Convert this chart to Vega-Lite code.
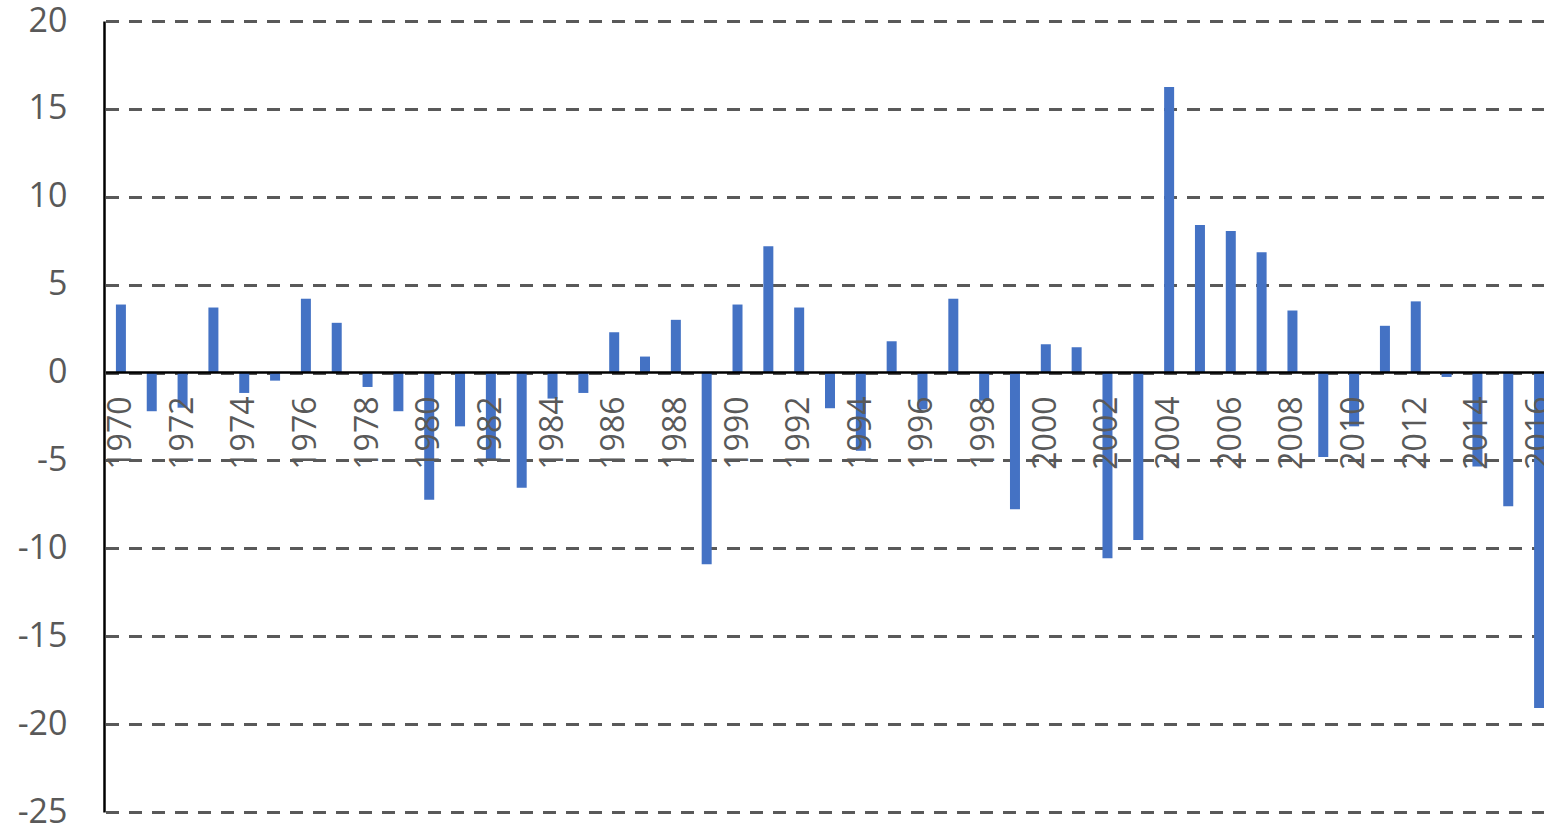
{
  "$schema": "https://vega.github.io/schema/vega-lite/v6.json",
  "width": 1440,
  "height": 791,
  "autosize": "none",
  "padding": {"left": 104, "top": 21, "right": 0, "bottom": 14},
  "background": "white",
  "config": {"view": {"stroke": null}},
  "data": {
    "values": [
      {"year": "1970", "value": 3.87},
      {"year": "1971", "value": -2.2},
      {"year": "1972", "value": -2.0},
      {"year": "1973", "value": 3.7},
      {"year": "1974", "value": -1.16},
      {"year": "1975", "value": -0.46},
      {"year": "1976", "value": 4.2},
      {"year": "1977", "value": 2.83},
      {"year": "1978", "value": -0.82},
      {"year": "1979", "value": -2.2},
      {"year": "1980", "value": -7.24},
      {"year": "1981", "value": -3.06},
      {"year": "1982", "value": -5.0},
      {"year": "1983", "value": -6.55},
      {"year": "1984", "value": -1.48},
      {"year": "1985", "value": -1.16},
      {"year": "1986", "value": 2.3},
      {"year": "1987", "value": 0.91},
      {"year": "1988", "value": 3.0},
      {"year": "1989", "value": -10.9},
      {"year": "1990", "value": 3.87},
      {"year": "1991", "value": 7.18},
      {"year": "1992", "value": 3.7},
      {"year": "1993", "value": -2.03},
      {"year": "1994", "value": -4.45},
      {"year": "1995", "value": 1.78},
      {"year": "1996", "value": -2.1},
      {"year": "1997", "value": 4.2},
      {"year": "1998", "value": -1.6},
      {"year": "1999", "value": -7.77},
      {"year": "2000", "value": 1.61},
      {"year": "2001", "value": 1.44},
      {"year": "2002", "value": -10.56},
      {"year": "2003", "value": -9.52},
      {"year": "2004", "value": 16.24},
      {"year": "2005", "value": 8.39},
      {"year": "2006", "value": 8.05},
      {"year": "2007", "value": 6.84},
      {"year": "2008", "value": 3.53},
      {"year": "2009", "value": -4.81},
      {"year": "2010", "value": -3.06},
      {"year": "2011", "value": 2.66},
      {"year": "2012", "value": 4.05},
      {"year": "2013", "value": -0.25},
      {"year": "2014", "value": -5.34},
      {"year": "2015", "value": -7.6},
      {"year": "2016", "value": -19.09}
    ]
  },
  "mark": {"type": "bar", "color": "#4472C4", "size": 10},
  "encoding": {
    "x": {
      "field": "year",
      "type": "ordinal",
      "sort": null,
      "scale": {"range": [1.5, 1450.5], "paddingInner": 0, "paddingOuter": 0},
      "axis": {
        "title": null,
        "offset": -440,
        "zindex": 1,
        "values": ["1970","1972","1974","1976","1978","1980","1982","1984","1986","1988","1990","1992","1994","1996","1998","2000","2002","2004","2006","2008","2010","2012","2014","2016"],
        "labelAngle": -90,
        "labelFont": "Open Sans",
        "labelFontSize": 32,
        "labelColor": "#595959",
        "labelPadding": 24,
        "labelOverlap": false,
        "labelBound": false,
        "ticks": false,
        "grid": false,
        "domainColor": "#000000",
        "domainWidth": 2.5
      }
    },
    "y": {
      "field": "value",
      "type": "quantitative",
      "scale": {"domain": [-25, 20], "nice": false, "zero": false},
      "axis": {
        "title": null,
        "values": [-25, -20, -15, -10, -5, 0, 5, 10, 15, 20],
        "labelExpr": "toString(datum.value)",
        "labelFont": "Open Sans",
        "labelFontSize": 34,
        "labelColor": "#595959",
        "labelPadding": 37,
        "ticks": false,
        "domainColor": "#000000",
        "domainWidth": 2.5,
        "grid": true,
        "gridColor": "#595959",
        "gridWidth": 2.8,
        "gridDash": [13, 10]
      }
    }
  }
}
